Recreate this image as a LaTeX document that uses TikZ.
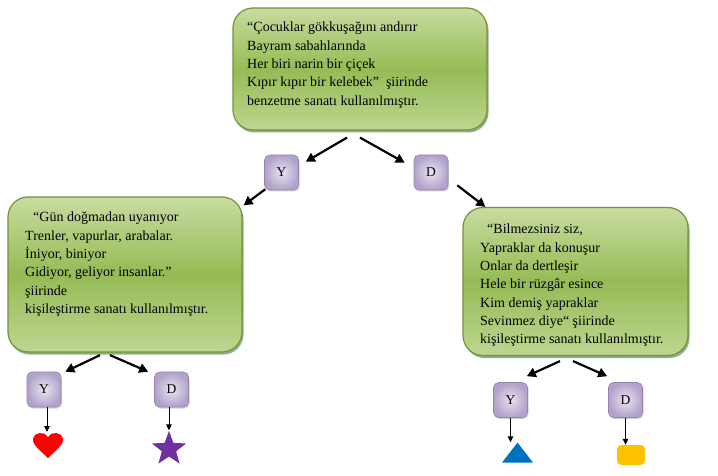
\documentclass[tikz,border=0pt]{standalone}
\usepackage{fontspec}
\setmainfont{Liberation Serif}
\usetikzlibrary{arrows.meta,shadows,shapes.geometric,shapes.misc}
\definecolor{gtop}{RGB}{200,220,160}
\definecolor{gmid}{RGB}{150,187,85}
\definecolor{gbot}{RGB}{190,214,145}
\definecolor{gborder}{RGB}{118,146,60}
\definecolor{pinner}{RGB}{232,228,240}
\definecolor{pouter}{RGB}{178,162,202}
\definecolor{pborder}{RGB}{150,130,180}
\definecolor{starpurple}{RGB}{112,48,160}
\definecolor{triblue}{RGB}{0,112,192}
\definecolor{gold}{RGB}{255,192,0}
\begin{document}
\begin{tikzpicture}[x=1pt,y=-1pt,
  greenbox/.style={draw=gborder, line width=1.2pt, rounded corners=20pt,
    top color=gtop, bottom color=gbot, middle color=gmid,
    drop shadow={shadow xshift=1.5pt, shadow yshift=-2.5pt, fill=black!70!green, opacity=0.45}},
  pbox/.style={draw=pborder, line width=0.6pt, rounded corners=5pt,
    inner color=pinner, outer color=pouter, minimum width=34pt, minimum height=35pt,
    inner sep=0pt, font=\fontsize{13.5}{15}\selectfont,
    drop shadow={shadow xshift=1pt, shadow yshift=-1.5pt, opacity=0.35}},
  txt/.style={inner sep=0pt, align=left, anchor=north west,
    font=\fontsize{14}{18.3}\selectfont},
  bigarrow/.style={line width=2.2pt, -{Triangle[length=9pt,width=9.5pt]}},
  smallarrow/.style={line width=1pt, -{Triangle[length=6pt,width=5.5pt]}}
]
\useasboundingbox (0,0) rectangle (718,476);
\fill[white] (0,0) rectangle (718,476);

% green boxes
\node[greenbox, minimum width=254pt, minimum height=122pt] (top) at (360,69) {};
\node[greenbox, minimum width=234pt, minimum height=155pt] (left) at (125,274.5) {};
\node[greenbox, minimum width=225pt, minimum height=148pt] (right) at (575.5,281.5) {};

\node[txt] (toptext) at (247,22) {“Çocuklar gökkuşağını andırır\\Bayram sabahlarında\\Her biri narin bir çiçek\\Kıpır kıpır bir kelebek”\ \ şiirinde\\benzetme sanatı kullanılmıştır.};
\node[txt] (lefttext) at (25,212) {\hspace{8pt}“Gün doğmadan uyanıyor\\Trenler, vapurlar, arabalar.\\İniyor, biniyor\\Gidiyor, geliyor insanlar.”\\şiirinde\\kişileştirme sanatı kullanılmıştır.};
\node[txt] (righttext) at (480,224) {\hspace{7pt}“Bilmezsiniz siz,\\Yapraklar da konuşur\\Onlar da dertleşir\\Hele bir rüzgâr esince\\Kim demiş yapraklar\\Sevinmez diye“ şiirinde\\kişileştirme sanatı kullanılmıştır.};

% purple boxes
\node[pbox] (y1) at (281.5,172.5) {Y};
\node[pbox] (d1) at (431,172.5) {D};
\node[pbox] (y2) at (44,389.5) {Y};
\node[pbox] (d2) at (171.5,389.5) {D};
\node[pbox] (y3) at (510.5,400) {Y};
\node[pbox] (d3) at (625.5,400) {D};

% end shapes
\fill[red] (48,458) .. controls (41,451) and (32,445) .. (33,438.5)
  .. controls (34,432) and (45,431) .. (48,437)
  .. controls (51,431) and (62,432) .. (63,438.5)
  .. controls (64,445) and (55,451) .. (48,458) -- cycle;
\coordinate (heart) at (47,432);
\node[star, star points=5, star point ratio=2.4, fill=starpurple, inner sep=0pt,
  minimum size=36pt] (star) at (169,449) {};
\node[isosceles triangle, isosceles triangle apex angle=76, shape border rotate=90,
  fill=triblue, inner sep=0pt, minimum height=20pt, minimum width=31pt,
  isosceles triangle stretches] (tri) at (517.5,455) {};
\node[rectangle, rounded corners=4.5pt, fill=gold, inner sep=0pt,
  minimum width=28pt, minimum height=20pt] (oct) at (631,455) {};

% arrows
\draw[bigarrow] ([shift={(-13,7)}]top.south) -- ([shift={(7,7)}]y1.north east);
\draw[bigarrow] ([shift={(0,7)}]top.south) -- ([shift={(-9,8)}]d1.north west);
\draw[bigarrow] ([shift={(1,-1)}]y1.south west) -- ([shift={(1,9)}]left.north east);
\draw[bigarrow] ([shift={(9,-5)}]d1.south east) -- ([shift={(23,0)}]right.north west);
\draw[bigarrow] ([shift={(-25,2.5)}]left.south) -- ([shift={(4,0)}]y2.north east);
\draw[bigarrow] ([shift={(-15,2.5)}]left.south) -- ([shift={(-6,0)}]d2.north west);
\draw[bigarrow] ([shift={(-15.5,5)}]right.south) -- ([shift={(-1,-6)}]y3.north east);
\draw[bigarrow] ([shift={(-2.5,5)}]right.south) -- ([shift={(-1,-6)}]d3.north west);
\draw[smallarrow] (heart |- y2.south) -- (heart);
\draw[smallarrow] (star.north |- d2.south) -- (star.north);
\draw[smallarrow] (y3.south) -- (y3.south |- tri.apex);
\draw[smallarrow] (d3.south) -- (d3.south |- oct.north);
\end{tikzpicture}
\end{document}
